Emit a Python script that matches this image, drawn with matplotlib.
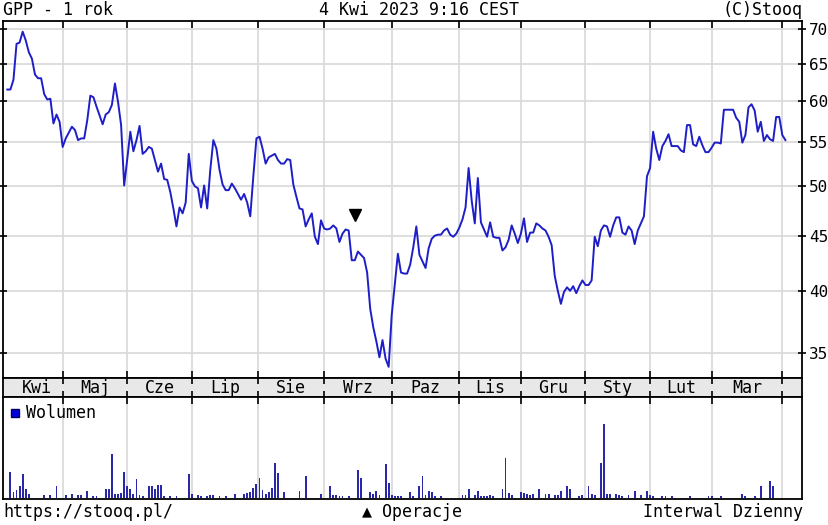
import numpy as np
import matplotlib
matplotlib.use('Agg')
import matplotlib.pyplot as plt

plt.rcParams['font.family'] = ['DejaVu Sans Mono']

# Kurs zamkniecia GPP, kolejne sesje (od 4 Kwi 2022 do 4 Kwi 2023)
kurs = [
    61.5, 61.5, 62.8, 67.8, 68.0, 69.6, 68.3, 66.6, 65.7, 63.5,
    63.0, 63.0, 60.9, 60.2, 60.3, 57.2, 58.3, 57.4, 54.4, 55.4,
    56.1, 56.8, 56.4, 55.2, 55.4, 55.4, 57.6, 60.7, 60.5, 59.3,
    58.2, 57.1, 58.3, 58.6, 59.5, 62.3, 59.9, 57.0, 50.1, 53.0,
    56.2, 53.9, 55.2, 56.9, 53.6, 53.9, 54.4, 54.2, 52.9, 51.6,
    52.5, 50.8, 50.7, 49.4, 47.7, 45.9, 47.8, 47.2, 48.3, 53.6,
    50.6, 50.0, 49.8, 47.8, 50.1, 47.7, 51.8, 55.2, 54.2, 51.8,
    50.2, 49.6, 49.6, 50.3, 49.8, 49.2, 48.6, 49.2, 48.3, 46.9,
    51.1, 55.4, 55.6, 54.2, 52.5, 53.2, 53.4, 53.6, 52.9, 52.5,
    52.5, 53.0, 52.9, 50.2, 48.9, 47.7, 47.6, 45.9, 46.6, 47.2,
    44.9, 44.2, 46.5, 45.7, 45.6, 45.7, 46.0, 45.7, 44.4, 45.2,
    45.6, 45.5, 42.7, 42.7, 43.5, 43.2, 42.9, 41.6, 38.5, 37.0,
    35.9, 34.7, 36.0, 34.6, 34.0, 38.0, 40.6, 43.3, 41.6, 41.5,
    41.5, 42.3, 43.9, 45.9, 43.2, 42.6, 42.0, 43.8, 44.7, 45.0,
    45.1, 45.1, 45.5, 45.7, 45.1, 44.9, 45.2, 45.8, 46.6, 47.8,
    52.0, 48.5, 46.2, 50.9, 46.3, 45.6, 44.9, 46.3, 44.9, 44.8,
    44.8, 43.6, 43.9, 44.6, 46.0, 45.2, 44.3, 45.2, 46.7, 44.4,
    45.3, 45.3, 46.2, 46.0, 45.7, 45.5, 44.9, 44.1, 41.3, 40.0,
    38.9, 39.9, 40.3, 40.0, 40.4, 39.8, 40.4, 40.9, 40.5, 40.5,
    40.9, 44.9, 44.0, 45.5, 46.0, 45.9, 44.9, 46.0, 46.8, 46.8,
    45.3, 45.1, 45.9, 45.5, 44.2, 45.5, 46.2, 46.9, 51.1, 52.0,
    56.2, 54.2, 52.9, 54.5, 55.1, 55.9, 54.5, 54.5, 54.5, 54.0,
    53.8, 57.0, 57.0, 54.7, 54.5, 55.6, 54.6, 53.8, 53.8, 54.3,
    54.9, 54.9, 54.8, 58.9, 58.9, 58.9, 58.9, 57.9, 57.4, 54.9,
    55.8, 59.2, 59.6, 58.8, 56.2, 57.4, 55.1, 55.8, 55.3, 55.1,
    58.0, 58.0, 55.8, 55.2,
]

# Wolumen (jednostki umowne)
wolumen = [
    0, 25, 6, 8, 12, 23, 9, 4, 0, 0,
    0, 0, 3, 0, 3, 0, 12, 0, 0, 3,
    0, 4, 0, 3, 3, 0, 7, 0, 2, 2,
    0, 0, 9, 9, 43, 4, 4, 5, 25, 12,
    9, 4, 18, 3, 2, 0, 12, 12, 9, 13,
    13, 2, 0, 2, 0, 2, 0, 0, 0, 23,
    4, 0, 3, 2, 0, 2, 3, 3, 0, 2,
    0, 2, 0, 0, 4, 0, 0, 4, 5, 6,
    10, 14, 19, 8, 4, 6, 10, 34, 24, 0,
    6, 0, 0, 0, 0, 7, 0, 21, 0, 0,
    0, 0, 4, 0, 0, 12, 3, 3, 2, 2,
    0, 2, 0, 0, 27, 19, 0, 0, 6, 4,
    7, 3, 0, 33, 15, 3, 2, 2, 2, 0,
    0, 6, 2, 0, 12, 21, 3, 7, 6, 2,
    0, 2, 0, 0, 0, 0, 0, 0, 3, 3,
    9, 0, 3, 7, 2, 2, 2, 3, 2, 0,
    0, 9, 39, 5, 3, 0, 0, 6, 5, 4,
    3, 4, 0, 9, 0, 4, 4, 0, 3, 3,
    7, 0, 12, 9, 0, 0, 2, 3, 0, 12,
    4, 3, 0, 34, 73, 4, 4, 0, 4, 3,
    2, 0, 3, 0, 7, 0, 3, 0, 7, 3,
    2, 0, 0, 2, 2, 0, 2, 0, 0, 0,
    0, 0, 2, 0, 0, 0, 0, 0, 2, 2,
    0, 0, 2, 0, 0, 0, 0, 0, 0, 4,
    2, 0, 0, 2, 0, 12, 0, 0, 16, 12,
    0, 0, 0, 0,
]

miesiace = ['Kwi', 'Maj', 'Cze', 'Lip', 'Sie', 'Wrz', 'Paz', 'Lis',
            'Gru', 'Sty', 'Lut', 'Mar']
# numer sesji, od ktorej zaczyna sie miesiac
granice = [1.5, 18, 39, 60, 81.5, 103, 125, 147, 167, 188, 209, 229, 252]
poziomy = [35, 40, 45, 50, 55, 60, 65, 70]

# operacja (trojkat nad wykresem)
operacja_dzien = 113
operacja_poziom = 47.0

dni = np.arange(len(kurs))

W, H = 829, 525
def prostokat(x0, y0, x1, y1):
    return [x0 / W, 1 - y1 / H, (x1 - x0) / W, (y1 - y0) / H]

kolor_siatki = '#d8d8d8'
fig = plt.figure(figsize=(W / 100, H / 100), dpi=100)

# --- wykres kursu ---
ax = fig.add_axes(prostokat(3, 21, 802, 378))
ax.plot(dni, kurs, color='#1e1ec8', lw=1.4, zorder=3)
ax.plot(operacja_dzien, operacja_poziom, marker='v', color='black', ms=8, zorder=4)
ax.set_yscale('log')
ax.set_ylim(33.2, 71.2)
ax.set_xlim(-1.4, 258.4)
ax.set_yticks(poziomy, [str(p) for p in poziomy])
ax.yaxis.set_minor_locator(plt.NullLocator())
ax.set_xticks(granice[1:])
ax.tick_params(axis='x', top=True, bottom=True, direction='in', length=5,
               width=1.2, labelbottom=False)
ax.tick_params(axis='y', left=True, right=True, labelleft=False, labelright=True,
               direction='inout', length=6, width=1.2, labelsize=11.5, pad=2.2)
ax.grid(True, color=kolor_siatki, lw=1.2)
ax.set_axisbelow(True)
for s in ax.spines.values():
    s.set_linewidth(1.3)

# --- pasek z miesiacami ---
pasek = fig.add_axes(prostokat(3, 378, 802, 397))
pasek.set_facecolor('#e8e8e8')
pasek.set_xlim(-1.4, 258.4)
pasek.set_ylim(0, 1)
pasek.set_yticks([])
pasek.set_xticks(granice[1:])
pasek.tick_params(axis='x', top=True, bottom=True, direction='in', length=4,
                  width=1.2, labelbottom=False)
for s in pasek.spines.values():
    s.set_linewidth(1.3)
for i, m in enumerate(miesiace):
    pasek.text((granice[i] + granice[i + 1]) / 2, 0.45, m, ha='center',
               va='center', fontsize=12)

# --- wolumen ---
axv = fig.add_axes(prostokat(3, 397, 802, 499))
axv.bar(dni, wolumen, width=0.6, color='#2828a8', zorder=3)
axv.set_xlim(-1.4, 258.4)
axv.set_ylim(-1.3, 99.5)
axv.set_yticks([])
axv.set_xticks(granice[1:])
axv.tick_params(axis='x', top=True, bottom=False, direction='in', length=5,
                width=1.2, labelbottom=False)
axv.grid(True, axis='x', color=kolor_siatki, lw=1.2)
axv.set_axisbelow(True)
for s in axv.spines.values():
    s.set_linewidth(1.3)
axv.plot(0.0156, 0.845, marker='s', ms=6, color='#0000e0', mec='#000060',
         transform=axv.transAxes)
axv.text(0.0285, 0.845, 'Wolumen', transform=axv.transAxes, ha='left',
         va='center', fontsize=12)

# --- napisy ---
fig.text(3 / W, 1 - 10 / H, 'GPP - 1 rok', ha='left', va='center', fontsize=12)
fig.text(419 / W, 1 - 10 / H, '4 Kwi 2023 9:16 CEST', ha='center', va='center', fontsize=12)
fig.text(803 / W, 1 - 10 / H, '(C)Stooq', ha='right', va='center', fontsize=12)
fig.text(3 / W, 1 - 512 / H, 'https://stooq.pl/', ha='left', va='center', fontsize=12)
fig.text(412 / W, 1 - 512 / H, '▲ Operacje', ha='center', va='center', fontsize=12)
fig.text(803 / W, 1 - 512 / H, 'Interwal Dzienny', ha='right', va='center', fontsize=12)

fig.savefig('out.png', dpi=100)
